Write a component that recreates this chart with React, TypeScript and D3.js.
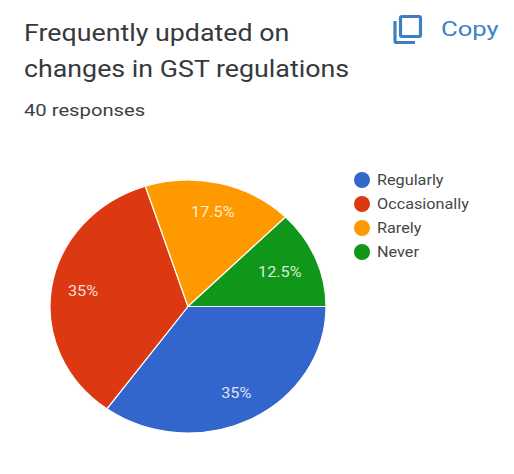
import React from "react";
import * as d3 from "d3";

const categories = ["Regularly", "Occasionally", "Rarely", "Never"];
const responses = [14, 14, 7, 5];
const percentLabels = ["35%", "35%", "17.5%", "12.5%"];
const sliceColors = ["#3366cc", "#dc3912", "#ff9900", "#109618"];
const titleLines = ["Frequently updated on", "changes in GST regulations"];
const subtitle = "40 responses";
const FONT = "Roboto, sans-serif";

const width = 514;
const height = 474;
const cx = 188;
const cy = 306.5;
const rx = 138;
const ry = 126.5;

// Text drawn slightly wider than its natural proportions, anchored at (x, y).
function WideText({ x, y, sx, children, ...rest }: any) {
  return (
    <text transform={`translate(${x},${y}) scale(${sx},1)`} {...rest}>
      {children}
    </text>
  );
}

export default function App() {
  const pie = d3
    .pie<number>()
    .sort(null)
    .startAngle(Math.PI / 2)
    .endAngle(Math.PI / 2 + 2 * Math.PI);
  const arcs = pie(responses);
  const arc = d3.arc<d3.PieArcDatum<number>>().innerRadius(0).outerRadius(1);
  const labelRadius = (d: d3.PieArcDatum<number>) => (d.value < 6 ? 0.72 : 0.77);
  const legendY = d3.scalePoint<string>().domain(categories).range([180, 252]);

  return (
    <svg
      width={width}
      height={height}
      style={{ position: "absolute", left: 0, top: 0, display: "block" }}
      fontFamily={FONT}
    >
      <rect width={width} height={height} fill="#ffffff" />
      {titleLines.map((line, i) => (
        <WideText key={line} x={24} y={40.5 + i * 36} sx={1.14} fontSize={23.5} fill="#37393c">
          {line}
        </WideText>
      ))}
      <WideText x={24} y={116} sx={1.19} fontSize={17} fill="#3c4043">
        {subtitle}
      </WideText>

      {/* Copy action: two overlapping page outlines and its label */}
      <g fill="none" stroke="#3f7fc1" strokeWidth={3.2}>
        <rect x={400.5} y={16.5} width={20} height={20} rx={1.5} />
        <path d="M395 21V41a1.5 1.5 0 0 0 1.5 1.5H415" />
      </g>
      <WideText x={441} y={36} sx={1.22} fontSize={21} fill="#4080c4">
        Copy
      </WideText>

      <g transform={`translate(${cx},${cy}) scale(${rx},${ry})`}>
        {arcs.map((d, i) => (
          <path
            key={categories[i]}
            d={arc(d) as string}
            fill={sliceColors[i]}
            stroke="#ffffff"
            strokeWidth={1.2}
            vectorEffect="non-scaling-stroke"
          />
        ))}
      </g>
      {arcs.map((d, i) => {
        const r = labelRadius(d);
        const [lx, ly] = d3.arc<d3.PieArcDatum<number>>().innerRadius(r).outerRadius(r).centroid(d);
        return (
          <WideText
            key={categories[i]}
            x={cx + lx * rx}
            y={cy + ly * ry}
            sx={1.16}
            dy="0.35em"
            textAnchor="middle"
            fontSize={14}
            fill="#ffffff"
            fillOpacity={0.85}
          >
            {percentLabels[i]}
          </WideText>
        );
      })}

      {categories.map((c, i) => (
        <g key={c} transform={`translate(0,${legendY(c)})`}>
          <circle cx={362} cy={0} r={8} fill={sliceColors[i]} />
          <WideText x={377} y={0} sx={1.12} dy="0.35em" fontSize={14.5} fill="#444746">
            {c}
          </WideText>
        </g>
      ))}
    </svg>
  );
}
